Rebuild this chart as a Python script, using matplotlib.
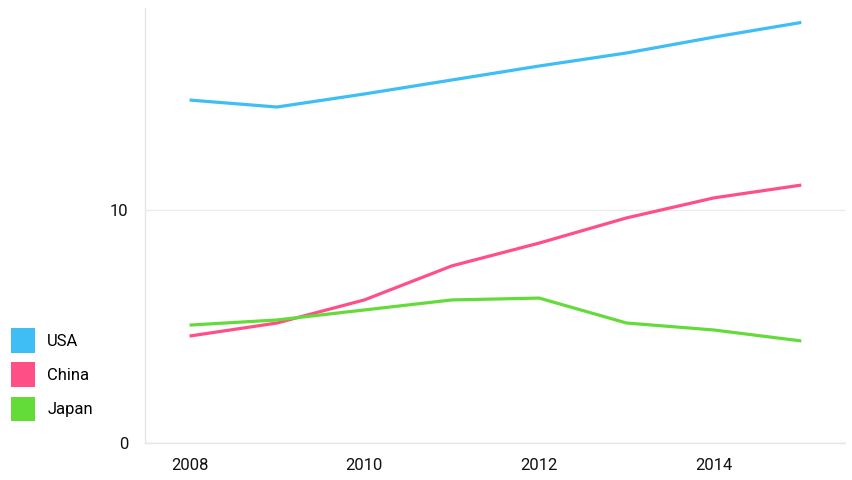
import matplotlib
matplotlib.use("Agg")
import matplotlib.pyplot as plt
from matplotlib.patches import Patch

years = [2008, 2009, 2010, 2011, 2012, 2013, 2014, 2015]
usa = [14.72, 14.42, 14.98, 15.58, 16.18, 16.74, 17.42, 18.05]
china = [4.59, 5.15, 6.14, 7.6, 8.58, 9.66, 10.52, 11.07]
japan = [5.06, 5.28, 5.71, 6.14, 6.22, 5.15, 4.85, 4.38]
series_names = ["USA", "China", "Japan"]
colors = ["#3fbef5", "#ff4f87", "#63dc3a"]
xticks = [2008, 2010, 2012, 2014]
yticks = [0, 10]

plt.rcParams['font.family'] = ['Roboto', 'DejaVu Sans']

fig = plt.figure(figsize=(8.52, 4.8), dpi=100)
ax = fig.add_axes([145/852, 1-443/480, 700/852, 435/480])

for vals, c in zip([usa, china, japan], colors):
    ax.plot(years, vals, color=c, lw=2.3, solid_capstyle='butt', solid_joinstyle='round')

ax.set_xlim(2007.49, 2015.5)
ax.set_ylim(0, 18.67)
ax.set_xticks(xticks)
ax.set_yticks(yticks)
ax.tick_params(length=0, labelsize=12, colors='#111111', pad=11)
ax.tick_params(axis='y', pad=12)
ax.grid(axis='y', color='#ebebeb', lw=1)
ax.set_axisbelow(True)
for s in ['top', 'right']:
    ax.spines[s].set_visible(False)
for s in ['left', 'bottom']:
    ax.spines[s].set_color('#e6e6e6')
    ax.spines[s].set_linewidth(1)

handles = [Patch(facecolor=c, edgecolor='none') for c in colors]
fig.legend(handles, series_names, loc='upper left', bbox_to_anchor=(11/852, 1-328/480),
           frameon=False, fontsize=12, handlelength=1.45, handleheight=1.9,
           handletextpad=0.72, labelspacing=0.58, borderaxespad=0, borderpad=0)

fig.savefig("out.png", dpi=100)
